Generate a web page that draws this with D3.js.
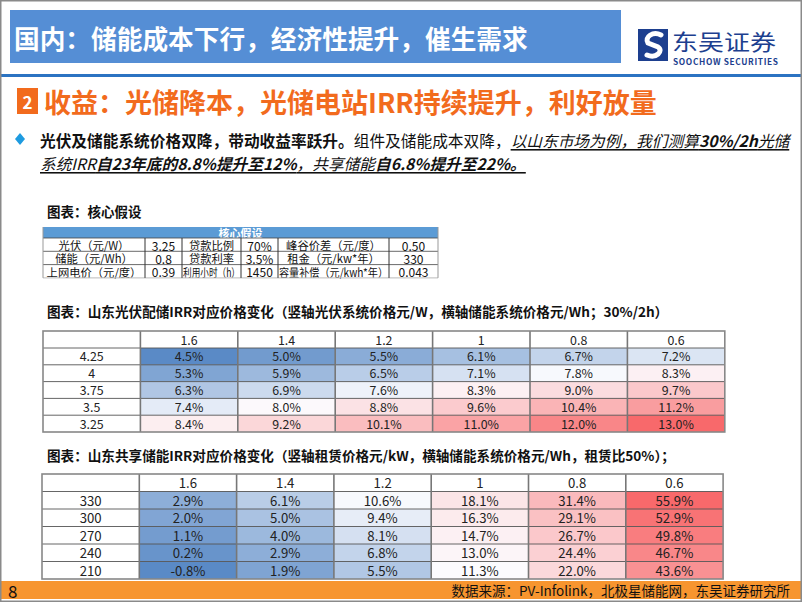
<!DOCTYPE html>
<html><head><meta charset="utf-8">
<script src="https://cdn.jsdelivr.net/npm/d3@7/dist/d3.min.js"></script>
<style>
html,body{margin:0;padding:0;background:#fff;}
svg{display:block;}
text{font-family:"Noto Sans CJK SC","Noto Sans",sans-serif;}
</style></head>
<body>
<div id="chart"></div>
<script>
// ---------------- DATA ----------------
const slideTitle = "国内：储能成本下行，经济性提升，催生需求";
const sectionNo = "2";
const sectionTitle = "收益：光储降本，光储电站IRR持续提升，利好放量";
const coreTitle = "图表：核心假设";
const coreHeader = "核心假设";
const coreLabelsA = ["光伏（元/W）","储能（元/Wh）","上网电价（元/度）"];
const coreValuesA = ["3.25","0.8","0.39"];
const coreLabelsB = ["贷款比例","贷款利率","利用小时（h）"];
const coreValuesB = ["70%","3.5%","1450"];
const coreLabelsC = ["峰谷价差（元/度）","租金（元/kw*年）","容量补偿（元/kwh*年）"];
const coreValuesC = ["0.50","330","0.043"];

const pvTitle = "图表：山东光伏配储IRR对应价格变化（竖轴光伏系统价格元/W，横轴储能系统价格元/Wh；30%/2h）";
const storagePrices = ["1.6","1.4","1.2","1","0.8","0.6"];
const pvPrices = ["4.25","4","3.75","3.5","3.25"];
const pvIRR = [
  [4.5, 5.0, 5.5, 6.1, 6.7, 7.2],
  [5.3, 5.9, 6.5, 7.1, 7.8, 8.3],
  [6.3, 6.9, 7.6, 8.3, 9.0, 9.7],
  [7.4, 8.0, 8.8, 9.6, 10.4, 11.2],
  [8.4, 9.2, 10.1, 11.0, 12.0, 13.0]
];
const sharedTitle = "图表：山东共享储能IRR对应价格变化（竖轴租赁价格元/kW，横轴储能系统价格元/Wh，租赁比50%）；";
const rentPrices = ["330","300","270","240","210"];
const sharedIRR = [
  [2.9, 6.1, 10.6, 18.1, 31.4, 55.9],
  [2.0, 5.0, 9.4, 16.3, 29.1, 52.9],
  [1.1, 4.0, 8.1, 14.7, 26.7, 49.8],
  [0.2, 2.9, 6.8, 13.0, 24.4, 46.7],
  [-0.8, 1.9, 5.5, 11.3, 22.0, 43.6]
];
const sourceText = "数据来源：PV-Infolink，北极星储能网，东吴证券研究所";
const pageNo = "8";

// ---------------- DRAW ----------------
const W = 802, H = 602;
const NUM_FONT = "Lato, 'Noto Sans CJK SC', sans-serif";
const svg = d3.select("#chart").append("svg").attr("width", W).attr("height", H);
svg.append("rect").attr("width", W).attr("height", H).attr("fill", "#fff");

// title banner
svg.append("rect").attr("x", 10).attr("y", 10).attr("width", 611).attr("height", 53).attr("fill", "#558ed5");
svg.append("text").attr("x", 14).attr("y", 37).attr("dominant-baseline", "central")
  .attr("fill", "#fff").attr("font-size", 25.7).attr("font-weight", 700).text(slideTitle);

// logo
const logo = svg.append("g").attr("transform", "translate(638,29)");
logo.append("rect").attr("width", 30).attr("height", 32).attr("fill", "#1d3f8f");
logo.append("path").attr("d", "M23,6 C15,2 6,8 10,14 L20,18 C26,22 18,30 9,26")
  .attr("fill", "none").attr("stroke", "#fff").attr("stroke-width", 5).attr("stroke-linecap", "round");
logo.append("text").attr("x", 34).attr("y", 10.5).attr("dominant-baseline", "central")
  .attr("font-size", 22).attr("fill", "#1d3f8f").attr("textLength", 104).attr("lengthAdjust", "spacingAndGlyphs")
  .text("东吴证券");
logo.append("text").attr("x", 35).attr("y", 31.5).attr("dominant-baseline", "central")
  .attr("font-size", 8.3).attr("font-weight", 700).attr("fill", "#1d3f8f").attr("font-family", "Roboto, sans-serif")
  .attr("textLength", 105).attr("lengthAdjust", "spacing")
  .text("SOOCHOW SECURITIES");

// blue rule
svg.append("rect").attr("x", 0).attr("y", 74).attr("width", W).attr("height", 3).attr("fill", "#2b73c2");

// section header
svg.append("rect").attr("x", 17).attr("y", 88).attr("width", 21).attr("height", 26).attr("fill", "#f26b1d");
svg.append("text").attr("x", 27.5).attr("y", 101).attr("text-anchor", "middle").attr("dominant-baseline", "central")
  .attr("fill", "#fff").attr("font-size", 17).attr("font-weight", 700).text(sectionNo);
svg.append("text").attr("x", 44).attr("y", 101).attr("dominant-baseline", "central")
  .attr("fill", "#f26b1d").attr("font-size", 27).attr("font-weight", 700).text(sectionTitle);

// bullet
svg.append("path").attr("d", "M20,133 L25,139 L20,145 L15,139 Z").attr("fill", "#1e9be0");
const bodySize = 15.7;
const l1 = svg.append("text").attr("x", 40).attr("y", 140).attr("dominant-baseline", "central")
  .attr("font-size", bodySize).attr("fill", "#111");
l1.append("tspan").attr("font-weight", 700).text("光伏及储能系统价格双降，带动收益率跃升。");
l1.append("tspan").text("组件及储能成本双降，");
l1.append("tspan").attr("font-style", "italic").attr("text-decoration", "underline").text("以山东市场为例，我们测算");
l1.append("tspan").attr("font-style", "italic").attr("font-weight", 700).attr("text-decoration", "underline").text("30%/2h");
l1.append("tspan").attr("font-style", "italic").attr("text-decoration", "underline").text("光储");
const l2 = svg.append("text").attr("x", 40).attr("y", 163).attr("dominant-baseline", "central")
  .attr("font-size", bodySize).attr("fill", "#111");
l2.append("tspan").attr("font-style", "italic").attr("text-decoration", "underline").text("系统IRR");
l2.append("tspan").attr("font-style", "italic").attr("font-weight", 700).attr("text-decoration", "underline").text("自23年底的8.8%提升至12%");
l2.append("tspan").attr("font-style", "italic").attr("text-decoration", "underline").text("，共享储能");
l2.append("tspan").attr("font-style", "italic").attr("font-weight", 700).attr("text-decoration", "underline").text("自6.8%提升至22%。");

// ---- core assumptions table ----
svg.append("text").attr("x", 47).attr("y", 211).attr("dominant-baseline", "central")
  .attr("font-size", 13.5).attr("font-weight", 700).attr("fill", "#111").text(coreTitle);

const coreCols = [43, 145, 182, 241, 278, 389, 438];
const coreTop = 227, coreHeadH = 11, coreRowH = 13.3;
const coreY = d3.scaleBand().domain(d3.range(coreLabelsA.length)).range([coreTop + coreHeadH, coreTop + coreHeadH + coreRowH * 3]);
svg.append("rect").attr("x", coreCols[0]).attr("y", coreTop).attr("width", coreCols[6] - coreCols[0]).attr("height", coreHeadH).attr("fill", "#5b9bd5");
svg.append("text").attr("x", (coreCols[0] + coreCols[6]) / 2).attr("y", coreTop + coreHeadH / 2 + 0.5)
  .attr("text-anchor", "middle").attr("dominant-baseline", "central").attr("font-size", 11).attr("font-weight", 700)
  .attr("fill", "#fff").text(coreHeader);
const coreColsData = [coreLabelsA, coreValuesA, coreLabelsB, coreValuesB, coreLabelsC, coreValuesC];
coreColsData.forEach((arr, ci) => {
  const x0 = coreCols[ci], x1 = coreCols[ci + 1];
  const isNum = ci % 2 === 1;
  arr.forEach((t, ri) => {
    const tx = svg.append("text").attr("y", coreY(ri) + coreY.bandwidth() / 2 + 0.5)
      .attr("dominant-baseline", "central").attr("font-size", isNum ? 12 : 11.3).attr("fill", "#111")
      .attr("font-family", isNum ? NUM_FONT : null).text(t);
    const len = tx.node().getComputedTextLength();
    if (len > x1 - x0 - 2) {
      tx.attr("x", x0 + 1).attr("text-anchor", "start")
        .attr("textLength", x1 - x0 - 2).attr("lengthAdjust", "spacingAndGlyphs");
    } else tx.attr("x", (x0 + x1) / 2).attr("text-anchor", "middle");
  });
});
const coreBottom = coreTop + coreHeadH + coreRowH * 3;
coreY.domain().forEach(ri => {
  svg.append("line").attr("x1", coreCols[0]).attr("x2", coreCols[6]).attr("y1", coreY(ri)).attr("y2", coreY(ri))
    .attr("stroke", "#444").attr("stroke-width", 0.8);
});
svg.append("line").attr("x1", coreCols[0]).attr("x2", coreCols[6]).attr("y1", coreBottom).attr("y2", coreBottom)
  .attr("stroke", "#bbb").attr("stroke-width", 1);
coreCols.forEach((x, i) => {
  svg.append("line").attr("x1", x).attr("x2", x).attr("y1", (i === 0 || i === 6) ? coreTop : coreTop + coreHeadH).attr("y2", coreBottom)
    .attr("stroke", (i === 0 || i === 6) ? "#999" : "#333").attr("stroke-width", 1);
});

// ---- heat tables ----
function heatTable(opts) {
  const { x0, top, colW, headH, rowH, cols, rows, values, fontSize } = opts;
  const all = values.flat();
  const color = d3.scaleLinear()
    .domain([d3.min(all), d3.median(all), d3.max(all)])
    .range(["#5a8ac6", "#fcfcff", "#f8696b"]);
  const x = d3.scaleBand().domain(cols).range([x0 + colW, x0 + colW * (cols.length + 1)]);
  const y = d3.scaleBand().domain(rows).range([top + headH, top + headH + rowH * rows.length]);
  const right = x0 + colW * (cols.length + 1), bottom = top + headH + rowH * rows.length;
  const g = svg.append("g").attr("font-family", NUM_FONT);
  rows.forEach((r, ri) => {
    cols.forEach((c, ci) => {
      g.append("rect").attr("x", x(c)).attr("y", y(r)).attr("width", x.bandwidth()).attr("height", y.bandwidth())
        .attr("fill", color(values[ri][ci]));
      g.append("text").attr("x", x(c) + x.bandwidth() / 2).attr("y", y(r) + y.bandwidth() / 2)
        .attr("text-anchor", "middle").attr("dominant-baseline", "central").attr("font-size", fontSize)
        .attr("font-family", NUM_FONT).attr("fill", "#222").text(values[ri][ci].toFixed(1) + "%");
    });
    g.append("text").attr("x", x0 + colW / 2).attr("y", y(r) + y.bandwidth() / 2)
      .attr("text-anchor", "middle").attr("dominant-baseline", "central").attr("font-size", fontSize)
      .attr("font-family", NUM_FONT).attr("fill", "#222").text(r);
  });
  cols.forEach(c => {
    g.append("text").attr("x", x(c) + x.bandwidth() / 2).attr("y", top + headH / 2)
      .attr("text-anchor", "middle").attr("dominant-baseline", "central").attr("font-size", fontSize)
      .attr("font-family", NUM_FONT).attr("fill", "#222").text(c);
  });
  [top + headH].concat(rows.map(r => y(r) + y.bandwidth())).forEach((yy, i, arr) => {
    if (i === arr.length - 1) return;
    g.append("line").attr("x1", x0).attr("x2", right).attr("y1", yy).attr("y2", yy)
      .attr("stroke", "#555").attr("stroke-width", 0.9);
  });
  cols.forEach(c => {
    g.append("line").attr("x1", x(c)).attr("x2", x(c)).attr("y1", top).attr("y2", bottom)
      .attr("stroke", "#777").attr("stroke-width", 1.6);
  });
  g.append("rect").attr("x", x0).attr("y", top).attr("width", right - x0).attr("height", bottom - top)
    .attr("fill", "none").attr("stroke", "#888").attr("stroke-width", 1.6);
}

svg.append("text").attr("x", 47).attr("y", 311).attr("dominant-baseline", "central")
  .attr("font-size", 13.6).attr("font-weight", 700).attr("fill", "#111").text(pvTitle);
heatTable({ x0: 43, top: 331, colW: 97.4, headH: 17, rowH: 16.8, cols: storagePrices, rows: pvPrices, values: pvIRR, fontSize: 12.4 });

svg.append("text").attr("x", 47).attr("y", 455).attr("dominant-baseline", "central")
  .attr("font-size", 13.6).attr("font-weight", 700).attr("fill", "#111").text(sharedTitle);
heatTable({ x0: 42, top: 474, colW: 97.3, headH: 17.5, rowH: 17.5, cols: storagePrices, rows: rentPrices, values: sharedIRR, fontSize: 13.2 });

// footer
svg.append("rect").attr("x", 1).attr("y", 581).attr("width", W - 2).attr("height", 18).attr("fill", "#f7952f");
svg.append("text").attr("x", 8).attr("y", 590).attr("dominant-baseline", "central").attr("font-size", 17)
  .attr("font-family", "'Liberation Serif', serif").attr("fill", "#111").text(pageNo);
svg.append("text").attr("x", 790).attr("y", 590).attr("text-anchor", "end").attr("dominant-baseline", "central")
  .attr("font-size", 13.5).attr("fill", "#111").text(sourceText);

// slide frame
svg.append("rect").attr("x", 0.75).attr("y", 0.75).attr("width", W - 1.5).attr("height", H - 1.5)
  .attr("fill", "none").attr("stroke", "#8a8a8a").attr("stroke-width", 1.5);
</script>
</body></html>
